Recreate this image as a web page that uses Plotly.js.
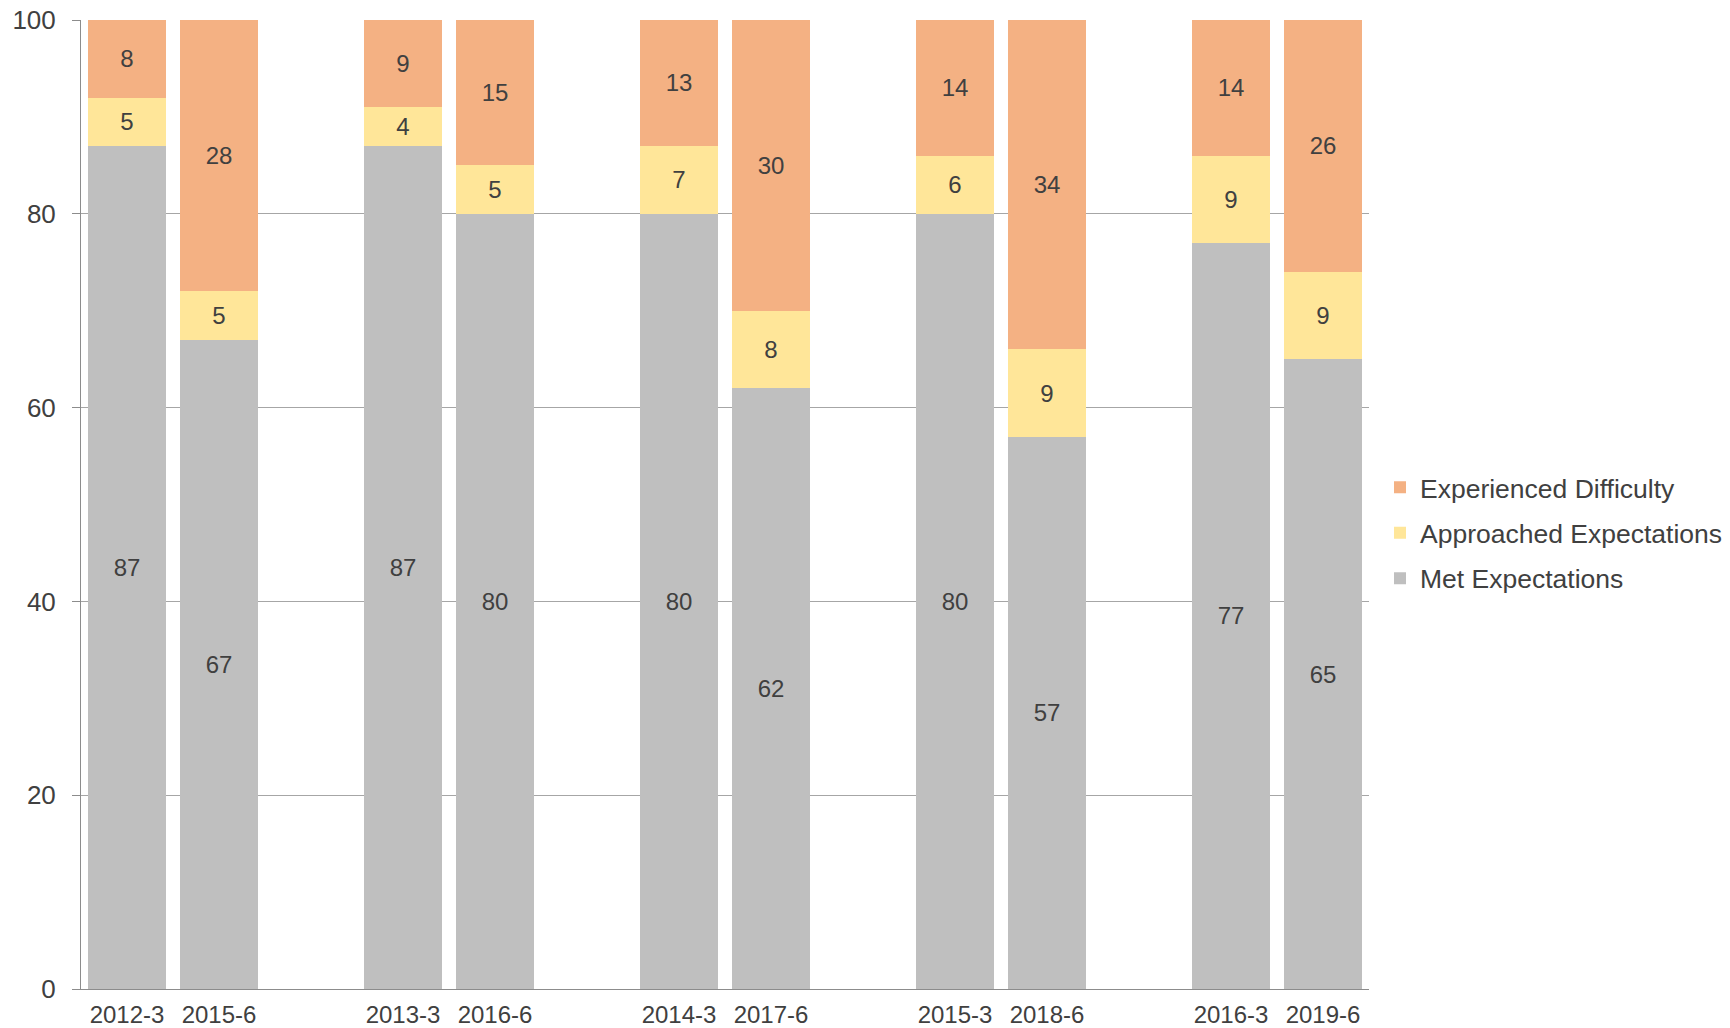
<!DOCTYPE html>
<html>
<head>
<meta charset="utf-8">
<script src="https://cdn.plot.ly/plotly-3.0.1.min.js"></script>
<style>html,body{margin:0;padding:0;background:#fff}#chart{width:1730px;height:1028px}</style>
</head>
<body>
<div id="chart"></div>
<script>
// Categories (blank spacer slots between pairs)
const categories = ['2012-3','2015-6',' ','2013-3','2016-6','  ','2014-3','2017-6','   ','2015-3','2018-6','    ','2016-3','2019-6'];
const metExpectations        = [87, 67, null, 87, 80, null, 80, 62, null, 80, 57, null, 77, 65];
const approachedExpectations = [5, 5, null, 4, 5, null, 7, 8, null, 6, 9, null, 9, 9];
const experiencedDifficulty  = [8, 28, null, 9, 15, null, 13, 30, null, 14, 34, null, 14, 26];
const yTickValues = [0, 20, 40, 60, 80, 100];
const seriesNames = ['Met Expectations','Approached Expectations','Experienced Difficulty'];
const seriesColors = ['#BFBFBF','#FFE699','#F4B183'];
const legendRanks = [3, 2, 1];

const FONT = 'Liberation Sans, Arial, sans-serif';
const TXT = '#404040';

function mk(vals, i){
  return {
    type:'bar', x:categories, y:vals, name:seriesNames[i],
    marker:{color:seriesColors[i], line:{width:0}},
    text: vals.map(v => v==null ? '' : String(v)),
    textposition:'inside', insidetextanchor:'middle', textangle:0,
    constraintext:'none',
    textfont:{family:FONT, size:24, color:TXT},
    hoverinfo:'x+y+name',
    legendgroup:'g'+i,
    legendrank:legendRanks[i]
  };
}

const data = [mk(metExpectations,0), mk(approachedExpectations,1), mk(experiencedDifficulty,2)];

const layout = {
  width:1730, height:1028,
  margin:{l:81, r:361, t:20, b:39},
  barmode:'stack', bargap:0.16,
  paper_bgcolor:'#fff', plot_bgcolor:'#fff',
  font:{family:FONT, size:24, color:TXT},
  xaxis:{
    type:'category', categoryorder:'array', categoryarray:categories,
    showgrid:false, showline:true, linecolor:'#8c8c8c', linewidth:1,
    ticks:'', tickfont:{family:FONT, size:24, color:TXT},
    ticklabelstandoff:4, zeroline:false, fixedrange:true
  },
  yaxis:{
    range:[0,100], tickvals:yTickValues,
    showgrid:true, gridcolor:'#a6a6a6', gridwidth:1,
    showline:true, linecolor:'#8c8c8c', linewidth:1,
    ticks:'outside', ticklen:8, tickcolor:'#8c8c8c', tickwidth:1,
    tickfont:{family:FONT, size:26, color:TXT},
    ticklabelstandoff:11, zeroline:false
  },
  showlegend:true,
  legend:{
    xref:'container', yref:'container',
    x:1380/1730, xanchor:'left', y:1-533/1028, yanchor:'middle',
    traceorder:'grouped', tracegroupgap:8,
    font:{family:FONT, size:26.5, color:TXT},
    bgcolor:'rgba(0,0,0,0)'
  }
};

Plotly.newPlot('chart', data, layout, {displayModeBar:false, staticPlot:true});
</script>
</body>
</html>
